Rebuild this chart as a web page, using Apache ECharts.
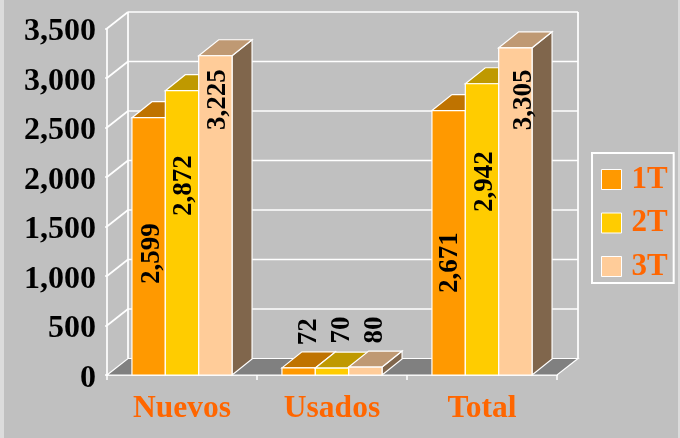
<!DOCTYPE html>
<html>
<head>
<meta charset="utf-8">
<style>
  html, body { margin: 0; padding: 0; background: #dcdcdc; }
  #chart { width: 680px; height: 438px; }
</style>
<script src="https://cdn.jsdelivr.net/npm/echarts@6/dist/echarts.min.js"></script>
</head>
<body>
<div id="chart"></div>
<script>
var categories = ['Nuevos', 'Usados', 'Total'];
var seriesNames = ['1T', '2T', '3T'];
var values1T = [2599, 72, 2671];
var values2T = [2872, 70, 2942];
var values3T = [3225, 80, 3305];
var yTicks = [0, 500, 1000, 1500, 2000, 2500, 3000, 3500];

var colors = ['#FF9900', '#FFCC00', '#FFCC99'];
var topColors = ['#BF7300', '#BF9900', '#BF9973'];
var sideColors = ['#805000', '#806600', '#80664C'];

// fake 3d depth of the chart
var depthX = 21, depthY = -16.5;
var barDepthX = 20, barDepthY = -16;
// labels were moved by hand in the original: [dx, dy from bar top]
var labelShift = [
  [[3, 136], [2, 95], [3, 44]],
  [[10, -36], [10, -38], [10, -37]],
  [[1, 152], [3, 98], [9, 52]]
];

function fmt(v) {
  return String(v).replace(/(\d)(\d{3})$/, '$1,$2');
}

function line(x1, y1, x2, y2) {
  return {
    type: 'line',
    shape: { x1: x1, y1: y1, x2: x2, y2: y2 },
    style: { stroke: '#fff', lineWidth: 1.7 }
  };
}

function poly(points, fill) {
  return {
    type: 'polygon',
    shape: { points: points },
    style: { fill: fill, stroke: '#fff', lineWidth: 1.2 }
  };
}

function renderWalls(params, api) {
  var band = api.size([1, 0])[0];
  var x0 = api.coord([0, 0])[0] - band / 2;
  var x1 = api.coord([2, 0])[0] + band / 2;
  var y0 = api.coord([0, 0])[1];
  var top = api.coord([0, 3500])[1];
  var kids = [];
  kids.push(poly([[x0, y0], [x0 + depthX, y0 + depthY], [x1 + depthX, y0 + depthY], [x1, y0]], '#808080'));
  kids.push(line(x0 + depthX, y0 + depthY, x0 + depthX, top + depthY));
  kids.push(line(x1 + depthX, y0 + depthY, x1 + depthX, top + depthY));
  for (var i = 1; i < yTicks.length; i++) {
    var y = api.coord([0, yTicks[i]])[1];
    kids.push(line(x0, y, x0 + depthX, y + depthY));
    kids.push(line(x0 + depthX, y + depthY, x1 + depthX, y + depthY));
  }
  return { type: 'group', children: kids };
}

function barRect(api, s) {
  var cat = api.value(0);
  var band = api.size([1, 0])[0];
  var w = band * 0.2225;
  var c = api.coord([cat, 0])[0];
  var left = c - w * 1.5 + s * w;
  return {
    left: left,
    right: left + w,
    base: api.coord([cat, 0])[1],
    top: api.coord([cat, api.value(1)])[1]
  };
}

function makeBarRender(s) {
  return function (params, api) {
    var b = barRect(api, s);
    return {
      type: 'group',
      children: [
        poly([[b.right, b.base], [b.right + barDepthX, b.base + barDepthY], [b.right + barDepthX, b.top + barDepthY], [b.right, b.top]], sideColors[s]),
        poly([[b.left, b.top], [b.left + barDepthX, b.top + barDepthY], [b.right + barDepthX, b.top + barDepthY], [b.right, b.top]], topColors[s]),
        poly([[b.left, b.base], [b.left, b.top], [b.right, b.top], [b.right, b.base]], colors[s])
      ]
    };
  };
}

function makeLabelRender(s) {
  return function (params, api) {
    var b = barRect(api, s);
    var shift = labelShift[params.dataIndex][s];
    return {
      type: 'text',
      x: (b.left + b.right) / 2 + shift[0],
      y: b.top + shift[1],
      rotation: Math.PI / 2,
      style: {
        text: fmt(api.value(1)),
        fill: '#000',
        font: 'bold 27px "Liberation Serif"',
        align: 'center',
        verticalAlign: 'middle'
      }
    };
  };
}

function toPairs(arr) {
  return arr.map(function (v, i) { return [i, v]; });
}

var allValues = [values1T, values2T, values3T];
var series = [{
  type: 'custom',
  silent: true,
  clip: false,
  z: 1,
  renderItem: renderWalls,
  data: [[0, 0]]
}];
allValues.forEach(function (vals, s) {
  series.push({
    type: 'custom',
    name: seriesNames[s],
    clip: false,
    z: 2 + s,
    itemStyle: { color: colors[s] },
    renderItem: makeBarRender(s),
    encode: { x: 0, y: 1 },
    data: toPairs(vals)
  });
});
allValues.forEach(function (vals, s) {
  series.push({
    type: 'custom',
    clip: false,
    z: 10,
    renderItem: makeLabelRender(s),
    encode: { x: 0, y: 1 },
    data: toPairs(vals)
  });
});

var myChart = echarts.init(document.getElementById('chart'));
myChart.setOption({
  animation: false,
  graphic: [{
    type: 'rect',
    z: -10,
    shape: { x: 4, y: 0, width: 674, height: 438 },
    style: { fill: '#C0C0C0' }
  }],
  grid: { left: 107, right: 123, top: 28.5, bottom: 63 },
  legend: {
    data: seriesNames,
    orient: 'vertical',
    left: 592,
    top: 153,
    padding: [11, 6, 1, 9],
    itemWidth: 20,
    itemHeight: 20,
    itemGap: 12.5,
    icon: 'rect',
    borderColor: '#fff',
    borderWidth: 2,
    itemStyle: { borderColor: '#fff', borderWidth: 1 },
    selectedMode: false,
    textStyle: { color: '#FF6600', fontFamily: 'Liberation Serif', fontWeight: 'bold', fontSize: 31, padding: [0, 0, 0, 5] }
  },
  xAxis: {
    type: 'category',
    data: categories,
    axisLine: { lineStyle: { color: '#fff', width: 1.7 } },
    axisTick: { show: true, length: 5, lineStyle: { color: '#fff', width: 1.5 } },
    axisLabel: { color: '#FF6600', fontFamily: 'Liberation Serif', fontWeight: 'bold', fontSize: 31.5, margin: 18 }
  },
  yAxis: {
    type: 'value',
    min: 0,
    max: 3500,
    interval: 500,
    axisLine: { show: true, lineStyle: { color: '#fff', width: 1.7 } },
    axisTick: { show: true, length: 2, lineStyle: { color: '#fff', width: 1.5 } },
    splitLine: { show: false },
    axisLabel: {
      color: '#000',
      fontFamily: 'Liberation Serif',
      fontWeight: 'bold',
      fontSize: 32,
      margin: 11,
      verticalAlign: 'top',
      lineHeight: 7,
      formatter: fmt
    }
  },
  series: series
});
</script>
</body>
</html>
